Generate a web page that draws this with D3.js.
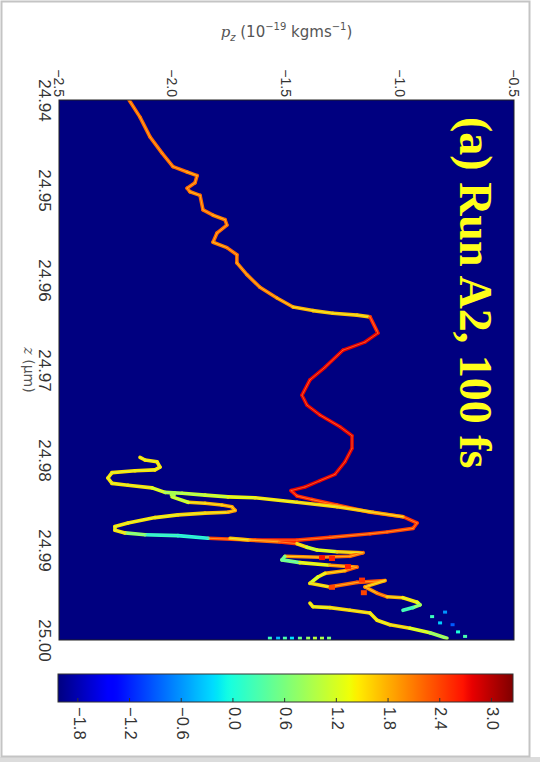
<!DOCTYPE html>
<html>
<head>
<meta charset="utf-8">
<script src="https://cdn.jsdelivr.net/npm/d3@7"></script>
<style>
  html, body { margin: 0; padding: 0; background: #ffffff; }
  svg { display: block; }
</style>
</head>
<body>
<svg id="chart" width="540" height="762"></svg>
<script>
// ---- axis ticks ----
const pzTicks = [-2.5, -2.0, -1.5, -1.0, -0.5];
const zTicks = [24.94, 24.95, 24.96, 24.97, 24.98, 24.99, 25.00];
const colorTicks = [-1.8, -1.2, -0.6, 0.0, 0.6, 1.2, 1.8, 2.4, 3.0];

// ---- phase-space traces: [z (μm), p_z (1e-19 kg m/s), log density] ----
const mainBranch = [
  [24.9400, -2.192, 2.2], [24.9419, -2.144, 2.2], [24.9441, -2.100, 2.2], [24.9459, -2.047, 2.2],
  [24.9474, -1.999, 2.2], [24.9480, -1.937, 2.1], [24.9484, -1.893, 2.2], [24.9492, -1.902, 2.2],
  [24.9498, -1.937, 2.2], [24.9502, -1.924, 2.1], [24.9506, -1.880, 2.2], [24.9522, -1.867, 2.2],
  [24.9528, -1.823, 2.1], [24.9533, -1.770, 2.2], [24.9539, -1.762, 2.2], [24.9548, -1.806, 2.2],
  [24.9558, -1.823, 2.1], [24.9564, -1.762, 2.2], [24.9572, -1.718, 2.2], [24.9581, -1.718, 2.1],
  [24.9594, -1.674, 2.1], [24.9608, -1.617, 2.1], [24.9620, -1.542, 2.0], [24.9630, -1.471, 1.8],
  [24.9634, -1.384, 1.7], [24.9637, -1.296, 1.7], [24.9639, -1.190, 1.7], [24.9641, -1.133, 2.6],
  [24.9659, -1.098, 2.8], [24.9669, -1.155, 2.8], [24.9678, -1.252, 2.75], [24.9697, -1.331, 2.8],
  [24.9711, -1.397, 2.75], [24.9728, -1.432, 2.8], [24.9739, -1.410, 2.8], [24.9750, -1.353, 2.75],
  [24.9763, -1.265, 2.8], [24.9773, -1.212, 2.8], [24.9787, -1.212, 2.8], [24.9802, -1.243, 2.8],
  [24.9816, -1.287, 2.75], [24.9823, -1.353, 2.8], [24.9830, -1.419, 2.8], [24.9834, -1.480, 2.7],
  [24.9840, -1.454, 2.6], [24.9844, -1.388, 2.5], [24.9850, -1.278, 2.4], [24.9858, -1.133, 2.4],
  [24.9863, -0.988, 2.5], [24.9870, -0.926, 2.5], [24.9876, -0.944, 2.4], [24.9880, -1.058, 2.4],
  [24.9882, -1.133, 2.4], [24.9886, -1.309, 2.5], [24.9889, -1.454, 2.6], [24.9889, -1.638, 2.4],
  [24.9887, -1.845, 0.1], [24.9884, -1.977, 0.2], [24.9883, -2.122, 0.8], [24.9881, -2.210, 1.5],
  [24.9878, -2.254, 1.5], [24.9874, -2.254, 1.5], [24.9870, -2.197, 1.5], [24.9864, -2.078, 1.5],
  [24.9861, -1.977, 1.6], [24.9859, -1.858, 1.7], [24.9858, -1.757, 1.9], [24.9856, -1.726, 1.9],
  [24.9852, -1.740, 1.9], [24.9850, -1.784, 1.8], [24.9848, -1.858, 1.7], [24.9847, -1.933, 1.2],
  [24.9841, -2.003, 1.0]
];

const upperFold = [
  [24.9797, -2.144, 1.5], [24.9800, -2.122, 1.5], [24.9802, -2.069, 1.5], [24.9808, -2.056, 1.5],
  [24.9811, -2.078, 1.5], [24.9812, -2.166, 1.5], [24.9814, -2.267, 1.5], [24.9820, -2.285, 1.5],
  [24.9826, -2.267, 1.5], [24.9828, -2.197, 1.5], [24.9831, -2.091, 1.3], [24.9836, -2.034, 1.0],
  [24.9837, -1.959, 1.1], [24.9839, -1.858, 1.2], [24.9841, -1.757, 1.4], [24.9842, -1.638, 1.5],
  [24.9847, -1.454, 1.6], [24.9852, -1.278, 1.7], [24.9858, -1.120, 1.9], [24.9863, -0.988, 2.2]
];

const lowerZigzag = [
  [24.9887, -1.748, 1.7], [24.9889, -1.660, 2.2], [24.9891, -1.529, 2.5], [24.9893, -1.454, 1.6],
  [24.9897, -1.410, 1.2], [24.9900, -1.366, 1.3], [24.9902, -1.278, 1.7], [24.9903, -1.164, 2.2],
  [24.9907, -1.221, 2.2], [24.9908, -1.353, 2.0], [24.9907, -1.507, 0.6], [24.9911, -1.520, 0.6],
  [24.9914, -1.441, 1.4], [24.9917, -1.309, 2.0], [24.9919, -1.190, 2.3], [24.9923, -1.243, 1.9],
  [24.9926, -1.331, 1.5], [24.9930, -1.362, 1.3], [24.9937, -1.397, 1.6], [24.9941, -1.309, 2.2],
  [24.9936, -1.190, 2.3], [24.9934, -1.067, 1.8], [24.9941, -1.155, 2.0], [24.9948, -1.102, 2.2],
  [24.9952, -1.058, 1.8], [24.9953, -0.988, 1.5], [24.9958, -0.926, 1.3], [24.9961, -0.913, 0.8],
  [24.9964, -0.944, 0.3], [24.9967, -0.988, 0.0]
];

const lowerTail = [
  [24.9959, -1.397, 1.5], [24.9963, -1.384, 1.5], [24.9964, -1.309, 1.6], [24.9967, -1.221, 1.6],
  [24.9970, -1.133, 1.5], [24.9978, -1.102, 1.5], [24.9983, -1.045, 1.6], [24.9987, -0.957, 1.3],
  [24.9992, -0.869, 0.9], [24.9998, -0.795, 0.4]
];

// isolated dense cells
const denseCells = [
  [24.9909, -1.344, 2.7], [24.9919, -1.230, 2.6], [24.9934, -1.168, 2.5], [24.9942, -1.300, 2.4],
  [24.9948, -1.160, 2.4], [24.9838, -2.000, 0.9], [24.9910, -1.300, 2.6]
];

// sparse cells along the right and bottom edges
const sparseCells = [
  [24.9974, -0.860, 0.2], [24.9981, -0.825, -0.3], [24.9991, -0.746, 0.0], [24.9996, -0.715, 0.3],
  [24.9969, -0.803, -0.6], [24.9983, -0.770, -0.9],
  [24.9998, -1.573, 0.2], [24.9998, -1.537, -0.4], [24.9998, -1.507, 0.3], [24.9998, -1.476, -0.2],
  [24.9998, -1.441, 0.5], [24.9998, -1.405, 0.8], [24.9998, -1.375, 1.0], [24.9998, -1.344, 0.9],
  [24.9998, -1.313, 0.6]
];

// ---- jet colormap ----
function piece(stops, t) {
  for (let i = 1; i < stops.length; i++) {
    if (t <= stops[i][0]) {
      const [t0, v0] = stops[i - 1], [t1, v1] = stops[i];
      return v0 + (v1 - v0) * (t - t0) / (t1 - t0);
    }
  }
  return stops[stops.length - 1][1];
}
const jetR = [[0, 0], [0.35, 0], [0.66, 1], [0.89, 1], [1, 0.5]];
const jetG = [[0, 0], [0.125, 0], [0.375, 1], [0.64, 1], [0.91, 0], [1, 0]];
const jetB = [[0, 0.5], [0.11, 1], [0.34, 1], [0.65, 0], [1, 0]];
function jet(t) {
  t = Math.max(0, Math.min(1, t));
  return d3.rgb(255 * piece(jetR, t), 255 * piece(jetG, t), 255 * piece(jetB, t)).formatHex();
}

// ---- layout ----
const svg = d3.select("#chart");
const W = 540, H = 762;
const plot = { left: 59, right: 514, top: 100, bottom: 640 };
const bar = { left: 58, right: 513, top: 674, bottom: 702 };

const x = d3.scaleLinear().domain([-2.5, -0.5]).range([plot.left, plot.right]);
const y = d3.scaleLinear().domain([24.94, 25.00]).range([plot.top, plot.bottom]);
const color = d3.scaleSequential(jet).domain([-2.03, 3.25]);
const cx = d3.scaleLinear().domain(color.domain()).range([bar.left, bar.right]);

// page frame
svg.append("rect").attr("x", 0).attr("y", 0).attr("width", W).attr("height", H).attr("fill", "#ffffff");
svg.append("rect").attr("x", 0).attr("y", 757).attr("width", W).attr("height", H - 757).attr("fill", "#dcdcdc");
svg.append("rect").attr("x", 1.5).attr("y", 1.5).attr("width", 528).attr("height", 755)
  .attr("fill", "none").attr("stroke", "#c4c4c4").attr("stroke-width", 2);

const defs = svg.append("defs");
defs.append("clipPath").attr("id", "plotClip")
  .append("rect").attr("x", plot.left).attr("y", plot.top)
  .attr("width", plot.right - plot.left).attr("height", plot.bottom - plot.top);

// plot background = lowest colour of the map
svg.append("rect").attr("x", plot.left).attr("y", plot.top)
  .attr("width", plot.right - plot.left).attr("height", plot.bottom - plot.top)
  .attr("fill", color(color.domain()[0]));

const traces = [mainBranch, upperFold, lowerZigzag, lowerTail];
const g = svg.append("g").attr("clip-path", "url(#plotClip)");

function segments(data) {
  const segs = [];
  for (let i = 0; i < data.length - 1; i++) segs.push({ a: data[i], b: data[i + 1], v: data[i][2] });
  return segs;
}
const allSegs = traces.flatMap(segments);

// outer band of each trace
g.append("g").selectAll("line").data(allSegs).join("line")
  .attr("x1", d => x(d.a[1])).attr("y1", d => y(d.a[0]))
  .attr("x2", d => x(d.b[1])).attr("y2", d => y(d.b[0]))
  .attr("stroke", d => color(d.v))
  .attr("stroke-width", 3.6).attr("stroke-linecap", "round");

// lighter core of each trace
g.append("g").selectAll("line").data(allSegs).join("line")
  .attr("x1", d => x(d.a[1])).attr("y1", d => y(d.a[0]))
  .attr("x2", d => x(d.b[1])).attr("y2", d => y(d.b[0]))
  .attr("stroke", d => d3.interpolateRgb(color(d.v - 0.5), "#ffffff")(0.2))
  .attr("stroke-width", 1.0).attr("stroke-linecap", "round").attr("opacity", 0.7);

g.append("g").selectAll("rect").data(denseCells).join("rect")
  .attr("x", d => x(d[1]) - 3).attr("y", d => y(d[0]) - 3)
  .attr("width", 6).attr("height", 5).attr("fill", d => color(d[2]));

g.append("g").selectAll("rect").data(sparseCells).join("rect")
  .attr("x", d => x(d[1]) - 2).attr("y", d => y(d[0]) - 1.5)
  .attr("width", 4).attr("height", 3).attr("fill", d => color(d[2]));

// panel label
svg.append("text")
  .attr("transform", `translate(460,117) rotate(90)`)
  .attr("font-family", "'Liberation Serif', 'Times New Roman', serif")
  .attr("font-weight", "bold").attr("font-size", 46)
  .attr("fill", "#ffff1a")
  .text("(a) Run A2, 100 fs");

// plot frame
svg.append("rect").attr("x", plot.left).attr("y", plot.top)
  .attr("width", plot.right - plot.left).attr("height", plot.bottom - plot.top)
  .attr("fill", "none").attr("stroke", "#222").attr("stroke-width", 1);

const labelFont = "'Liberation Sans', Arial, sans-serif";

// top axis: p_z
const topAxis = svg.append("g").attr("transform", `translate(0,${plot.top})`)
  .call(d3.axisTop(x).tickValues(pzTicks).tickSize(0).tickFormat(d3.format(".1f")));
topAxis.select(".domain").remove();
topAxis.selectAll("text")
  .attr("x", 0).attr("y", 0).attr("dy", "0.35em")
  .attr("text-anchor", "end")
  .attr("transform", "translate(-1,-3) rotate(90)")
  .attr("font-family", labelFont).attr("font-size", 14).attr("fill", "#333");

// left axis: z
const leftAxis = svg.append("g").attr("transform", `translate(${plot.left},0)`)
  .call(d3.axisLeft(y).tickValues(zTicks).tickSize(0).tickFormat(d3.format(".2f")));
leftAxis.select(".domain").remove();
leftAxis.selectAll("text")
  .attr("x", 0).attr("y", 0).attr("dy", "0.35em")
  .attr("text-anchor", "middle")
  .attr("transform", "translate(-14,0) rotate(90)")
  .attr("font-family", labelFont).attr("font-size", 17).attr("fill", "#333");

// axis titles
const topTitle = svg.append("text")
  .attr("x", (plot.left + plot.right) / 2).attr("y", 37)
  .attr("text-anchor", "middle")
  .attr("font-family", "'DejaVu Sans', sans-serif").attr("font-size", 15).attr("fill", "#555");
topTitle.append("tspan").attr("font-style", "italic").attr("font-family", "'DejaVu Serif', serif").text("p");
topTitle.append("tspan").attr("font-style", "italic").attr("font-size", 10).attr("dy", 4).text("z");
topTitle.append("tspan").attr("dy", -4).text("  (10");
topTitle.append("tspan").attr("font-size", 10).attr("dy", -7).text("−19");
topTitle.append("tspan").attr("dy", 7).text(" kgms");
topTitle.append("tspan").attr("font-size", 10).attr("dy", -7).text("−1");
topTitle.append("tspan").attr("dy", 7).text(")");

const leftTitle = svg.append("text")
  .attr("transform", "translate(29,370) rotate(90)")
  .attr("text-anchor", "middle").attr("dy", "0.35em")
  .attr("font-family", "'DejaVu Sans', sans-serif").attr("font-size", 14).attr("fill", "#555");
leftTitle.append("tspan").attr("font-style", "italic").attr("font-family", "'DejaVu Serif', serif").text("z");
leftTitle.append("tspan").text(" (μm)");

// colour bar
const grad = defs.append("linearGradient").attr("id", "jetGrad")
  .attr("x1", "0%").attr("x2", "100%").attr("y1", "0%").attr("y2", "0%");
const [c0, c1] = color.domain();
d3.range(0, 1.0001, 0.01).forEach(t => {
  grad.append("stop").attr("offset", `${t * 100}%`).attr("stop-color", color(c0 + t * (c1 - c0)));
});
svg.append("rect").attr("x", bar.left).attr("y", bar.top)
  .attr("width", bar.right - bar.left).attr("height", bar.bottom - bar.top)
  .attr("fill", "url(#jetGrad)").attr("stroke", "#333").attr("stroke-width", 1);

svg.append("g").selectAll("line").data(colorTicks).join("line")
  .attr("x1", d => cx(d)).attr("x2", d => cx(d))
  .attr("y1", bar.bottom - 4).attr("y2", bar.bottom)
  .attr("stroke", "#333").attr("stroke-width", 1);

const barAxis = svg.append("g").attr("transform", `translate(0,${bar.bottom})`)
  .call(d3.axisBottom(cx).tickValues(colorTicks).tickSize(0).tickFormat(d3.format(".1f")));
barAxis.select(".domain").remove();
barAxis.selectAll("text")
  .attr("x", 0).attr("y", 0).attr("dy", "0.35em")
  .attr("text-anchor", "start")
  .attr("transform", "translate(1,5) rotate(90)")
  .attr("font-family", labelFont).attr("font-size", 16.5).attr("fill", "#333");
</script>
</body>
</html>
